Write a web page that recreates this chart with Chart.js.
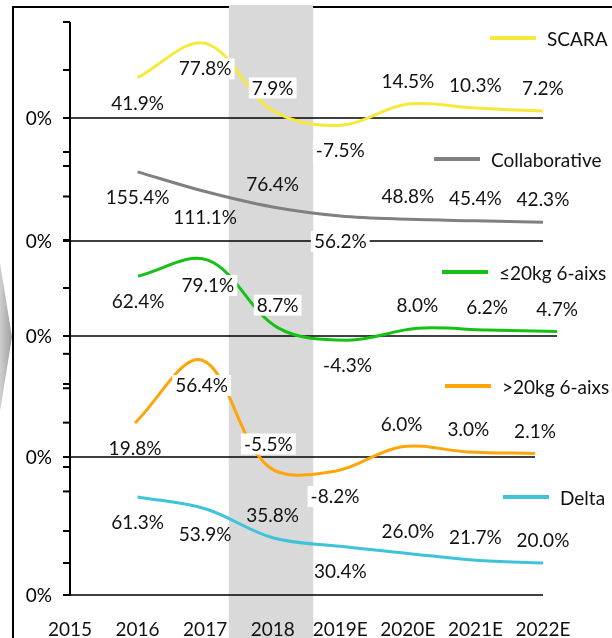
<!DOCTYPE html>
<html>
<head>
<meta charset="utf-8">
<script src="https://cdn.jsdelivr.net/npm/chart.js"></script>
<style>
  body { margin: 0; background: #fff; }
  canvas { display: block; }
</style>
</head>
<body>
<canvas id="growthChart" width="612" height="638"></canvas>
<script>
// x axis categories
const years = ['2015', '2016', '2017', '2018', '2019E', '2020E', '2021E', '2022E'];
const firstYear = 2016;

// series (yoy growth, %)
const seriesNames = ['SCARA', 'Collaborative', '≤20kg 6-aixs', '>20kg 6-aixs', 'Delta'];
const scara = [41.9, 77.8, 7.9, -7.5, 14.5, 10.3, 7.2];
const collaborative = [155.4, 111.1, 76.4, 56.2, 48.8, 45.4, 42.3];
const light6 = [62.4, 79.1, 8.7, -4.3, 8.0, 6.2, 4.7];
const heavy6 = [19.8, 56.4, -5.5, -8.2, 6.0, 3.0, 2.1];
const delta = [61.3, 53.9, 35.8, 30.4, 26.0, 21.7, 20.0];

// tick values of each panel's own axis
const scaraTicks = [100, 50, 0, -50];
const collabTicks = [200, 100, 0];
const lightTicks = [100, 50, 0, -50];
const heavyTicks = [60, 40, 20, 0, -20];
const deltaTicks = [80, 40, 20, 0];

// shaded period
const shadeFrom = 2017.35;
const shadeTo = 2018.6;

// label placement: a = above, b = below, upper case = white box
const scaraPos = ['b', 'B', 'A', 'B', 'A', 'A', 'A'];
const collabPos = ['b', 'b', 'a', 'B', 'a', 'a', 'a'];
const lightPos = ['B', 'B', 'A', 'B', 'A', 'A', 'A'];
const heavyPos = ['b', 'B', 'A', 'B', 'A', 'A', 'A'];
const deltaPos = ['b', 'b', 'a', 'b', 'a', 'a', 'a'];

const colors = ['#f6e93c', '#808080', '#13c213', '#ffa50a', '#3ec3da'];
const FONT = '19px Lato';

const toPoints = arr => arr.map((v, i) => ({ x: firstYear + i, y: v }));
const zeroLine = [{ x: 2015, y: 0 }, { x: 2022, y: 0 }];

const panels = [
    { data: scara, pos: scaraPos, ticks: scaraTicks, y: 'yS', x: 'x', legend: [490, 38] },
    { data: collaborative, pos: collabPos, ticks: collabTicks, y: 'yC', x: 'x', legend: [434, 159] },
    { data: light6, pos: lightPos, ticks: lightTicks, y: 'yL', x: 'x2', legend: [442, 272] },
    { data: heavy6, pos: heavyPos, ticks: heavyTicks, y: 'yH', x: 'x3', legend: [445, 386] },
    { data: delta, pos: deltaPos, ticks: deltaTicks, y: 'yD', x: 'x', legend: [503, 497] }
];

const datasets = [];
panels.forEach((p, i) => {
    datasets.push({
        label: seriesNames[i],
        data: toPoints(p.data),
        xAxisID: p.x,
        yAxisID: p.y,
        borderColor: colors[i],
        borderWidth: 3,
        tension: 0.35,
        pointRadius: 0,
        fill: false,
        clip: false
    });
});
panels.forEach((p, i) => {
    datasets.push({
        label: 'base' + i,
        data: zeroLine,
        xAxisID: p.x,
        yAxisID: p.y,
        borderColor: '#000',
        borderWidth: 1.6,
        pointRadius: 0,
        clip: false,
        order: 10
    });
});

// frame, arrow and shaded band, under everything else
const backdrop = {
    id: 'backdrop',
    beforeDraw(chart) {
        const ctx = chart.ctx;
        ctx.save();
        const g = ctx.createLinearGradient(0, 0, 13, 0);
        g.addColorStop(0, '#cfcfcf');
        g.addColorStop(1, '#9c9c9c');
        ctx.fillStyle = g;
        ctx.beginPath();
        ctx.moveTo(0, 263);
        ctx.lineTo(12, 337);
        ctx.lineTo(0, 411);
        ctx.closePath();
        ctx.fill();

        ctx.strokeStyle = '#000';
        ctx.lineWidth = 2;
        ctx.beginPath();
        ctx.moveTo(13, 640);
        ctx.lineTo(13, 7);
        ctx.lineTo(612, 7);
        ctx.stroke();

        const x = chart.scales.x;
        const x0 = x.getPixelForValue(shadeFrom);
        const x1 = x.getPixelForValue(shadeTo);
        ctx.fillStyle = '#d9d9d9';
        ctx.beginPath();
        ctx.roundRect(x0, 5, x1 - x0, 640, [3, 3, 0, 0]);
        ctx.fill();
        ctx.restore();
    },
    // left axis with the tick marks of every panel
    beforeDatasetsDraw(chart) {
        const ctx = chart.ctx;
        const area = chart.chartArea;
        ctx.save();
        ctx.strokeStyle = '#000';
        ctx.lineWidth = 2;
        ctx.beginPath();
        ctx.moveTo(area.left, area.top);
        ctx.lineTo(area.left, area.bottom + 1);
        ctx.stroke();
        ctx.font = FONT;
        ctx.fillStyle = '#000';
        ctx.textAlign = 'right';
        ctx.textBaseline = 'middle';
        panels.forEach(p => {
            const s = chart.scales[p.y];
            p.ticks.forEach(v => {
                const py = s.getPixelForValue(v);
                ctx.beginPath();
                ctx.moveTo(area.left - 7, py);
                ctx.lineTo(area.left, py);
                ctx.stroke();
                if (v === 0) ctx.fillText('0%', area.left - 18, py + 1);
            });
        });
        ctx.restore();
    }
};

// value labels and the scattered legend entries
const annotate = {
    id: 'annotate',
    afterDatasetsDraw(chart) {
        const ctx = chart.ctx;
        ctx.save();
        ctx.font = FONT;
        ctx.textAlign = 'center';
        ctx.textBaseline = 'middle';
        panels.forEach((p, i) => {
            const meta = chart.getDatasetMeta(i);
            meta.data.forEach((pt, j) => {
                const code = p.pos[j];
                const above = code.toLowerCase() === 'a';
                const ty = above ? pt.y - 23 : pt.y + 25;
                const text = p.data[j].toFixed(1) + '%';
                if (code !== code.toLowerCase()) {
                    const w = ctx.measureText(text).width + 6;
                    ctx.fillStyle = '#fff';
                    ctx.fillRect(pt.x - w / 2, ty - 10, w, 21);
                }
                ctx.fillStyle = '#111';
                ctx.fillText(text, pt.x, ty + 1);
            });

            const [lx, ly] = p.legend;
            ctx.strokeStyle = colors[i];
            ctx.lineWidth = 4;
            ctx.beginPath();
            ctx.moveTo(lx, ly);
            ctx.lineTo(lx + 46, ly);
            ctx.stroke();
            ctx.fillStyle = '#111';
            ctx.textAlign = 'left';
            ctx.fillText(seriesNames[i], lx + 57, ly + 2);
            ctx.textAlign = 'center';
        });
        ctx.restore();
    }
};

const hiddenY = (min, max) => ({ type: 'linear', display: false, min: min, max: max });

new Chart(document.getElementById('growthChart').getContext('2d'), {
    type: 'line',
    data: { datasets: datasets },
    options: {
        responsive: false,
        animation: false,
        events: [],
        layout: { padding: { left: 70, right: 42, top: 22, bottom: 0 } },
        plugins: { legend: { display: false }, tooltip: { enabled: false } },
        scales: {
            x: {
                type: 'linear',
                min: 2015,
                max: 2022.4,
                afterBuildTicks: scale => {
                    scale.ticks = years.map((y, i) => ({ value: 2015 + i }));
                },
                afterFit: scale => { scale.height = 43; },
                ticks: {
                    callback: v => years[v - 2015],
                    font: { family: 'Lato', size: 19 },
                    color: '#111',
                    padding: 23,
                    maxRotation: 0,
                    autoSkip: false
                },
                grid: { display: false, drawTicks: false },
                border: { display: false }
            },
            x2: { type: 'linear', display: false, min: 2015.026, max: 2022.186 },
            x3: { type: 'linear', display: false, min: 2015.025, max: 2022.525 },
            yS: hiddenY(-496.9, 100),
            yC: hiddenY(-795.5, 492.1),
            yL: hiddenY(-269.8, 327.1),
            yH: hiddenY(-80.2, 252.9),
            yD: hiddenY(0, 358.1)
        }
    },
    plugins: [backdrop, annotate]
});
</script>
</body>
</html>
